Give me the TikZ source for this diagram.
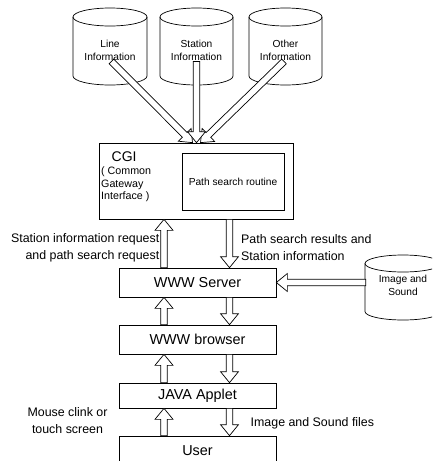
\documentclass[tikz,border=0pt]{standalone}
\usepackage{fontspec}
\setmainfont{Liberation Sans}
\usetikzlibrary{calc}
\newcommand\fsbig{\fontsize{14.4}{17}\selectfont}
\newcommand\fslab{\fontsize{12.4}{17}\selectfont}
\newcommand\fssmall{\fontsize{10.2}{13}\selectfont}
\newcommand\fscgi{\fontsize{14}{16}\selectfont}
\newcommand\fscgis{\fontsize{10.7}{12.5}\selectfont}
% block arrow between two named coordinates
\newcommand\blockarrow[2]{%
  \coordinate (bah) at ($(#2)!11pt!(#1)$);
  \filldraw[barrow] ($(#1)!3.3pt!90:(#2)$) -- ($(bah)!3.3pt!90:(#2)$) -- ($(bah)!9pt!90:(#2)$) -- (#2)
    -- ($(bah)!9pt!-90:(#2)$) -- ($(bah)!3.3pt!-90:(#2)$) -- ($(#1)!3.3pt!-90:(#2)$) -- cycle;}
% cylinder outline around a node: name, rx, ry, top-ellipse offset above centre, bottom offset below centre
\newcommand\cylout[5]{%
  \draw[cylline] ($(#1.center)+(0,#4)$) ellipse [x radius=#2, y radius=#3];
  \draw[cylline] ($(#1.center)+(-#2,#4)$) -- ($(#1.center)+(-#2,-#5+#3)$)
    arc[start angle=180, end angle=360, x radius=#2, y radius=#3] -- ($(#1.center)+(#2,#4)$);}
\begin{document}
\begin{tikzpicture}[x=1pt,y=1pt,
  box/.style={draw, line width=0.7pt, inner sep=0pt, font=\fsbig},
  barrow/.style={draw, fill=white, line width=0.7pt, line join=miter},
  cylline/.style={line width=0.7pt},
  cyltext/.style={inner sep=0pt, align=center, font=\fssmall, minimum width=74pt},
  lab/.style={inner sep=0pt, font=\fslab}]
\useasboundingbox (0,0) rectangle (432,-461);
\clip (0,0) rectangle (432,-461);
% databases
\node[cyltext] (dbl) at (110,-50.5) {Line\\Information};
\node[cyltext] (dbs) at (196.5,-50.5) {Station\\Information};
\node[cyltext] (dbo) at (285.5,-50.5) {Other\\Information};
\node[cyltext] (dbi) at (403,-285.5) {Image and\\Sound};
\cylout{dbl}{37}{9}{33.5}{34.5}
\cylout{dbs}{36.5}{9}{33.5}{34.5}
\cylout{dbo}{36.5}{9}{33.5}{34.5}
\cylout{dbi}{38}{8.5}{22}{34.5}
% boxes
\node[box, minimum width=194pt, minimum height=76pt] (cgi) at (196,-181) {};
\node[box, minimum width=102pt, minimum height=57pt, font=\fssmall] (psr) at (233,-181.5) {Path search routine};
\node[inner sep=0pt, anchor=west, font=\fscgi] (cgit) at (111.5,-157) {CGI};
\node[inner sep=0pt, anchor=west, align=left, font=\fscgis] (cgis) at (101,-184.5) {( Common\\Gateway\\Interface )};
\node[box, minimum width=157pt, minimum height=29pt] (srv) at (197.5,-282.5) {WWW Server};
\node[box, minimum width=157pt, minimum height=29pt] (brw) at (197.5,-339.5) {WWW browser};
\node[box, minimum width=157pt, minimum height=25pt] (jav) at (197.5,-395.5) {JAVA Applet};
\node[box, minimum width=157pt, minimum height=29pt] (usr) at (197.5,-450.5) {User};
% labels
\node[lab, anchor=east, align=right] (lreq) at (159.5,-248) {Station information request\\and path search request};
\node[lab, anchor=west, align=left] (lres) at (241,-248) {Path search results and\\ Station information};
\node[lab, align=center] (lmou) at (67.5,-420.5) {Mouse clink or\\touch screen};
\node[lab, anchor=west] (lfil) at (250.5,-423) {Image and Sound files};
% arrow end points
\coordinate (upx) at (164,0);
\coordinate (dnx) at (229.5,0);
\coordinate (t1) at ($(dbl.south)+(1.5,-0.5)$);
\coordinate (t2) at ($(dbs.south)+(0,-0.5)$);
\coordinate (t3) at ($(dbo.south)+(-1.5,-0.5)$);
\coordinate (h1) at ($(cgi.north)+(-3.5,0)$);
\coordinate (h2) at ($(cgi.north)+(0.5,0)$);
\coordinate (h3) at ($(cgi.north)+(4.5,0)$);
\blockarrow{t1}{h1}
\blockarrow{t3}{h3}
\blockarrow{t2}{h2}
% vertical arrows
\coordinate (a1) at (srv.north -| upx); \coordinate (a2) at (cgi.south -| upx);
\coordinate (b1) at (cgi.south -| dnx); \coordinate (b2) at (srv.north -| dnx);
\coordinate (c1) at (brw.north -| upx); \coordinate (c2) at (srv.south -| upx);
\coordinate (d1) at (srv.south -| dnx); \coordinate (d2) at (brw.north -| dnx);
\coordinate (e1) at (jav.north -| upx); \coordinate (e2) at (brw.south -| upx);
\coordinate (f1) at (brw.south -| dnx); \coordinate (f2) at (jav.north -| dnx);
\coordinate (g1) at (usr.north -| upx); \coordinate (g2) at (jav.south -| upx);
\coordinate (k1) at (jav.south -| dnx); \coordinate (k2) at (usr.north -| dnx);
\coordinate (m1) at (dbi.west |- srv.east); \coordinate (m2) at (srv.east);
\blockarrow{a1}{a2}
\blockarrow{b1}{b2}
\blockarrow{c1}{c2}
\blockarrow{d1}{d2}
\blockarrow{e1}{e2}
\blockarrow{f1}{f2}
\blockarrow{g1}{g2}
\blockarrow{k1}{k2}
\blockarrow{m1}{m2}
\end{tikzpicture}
\end{document}
